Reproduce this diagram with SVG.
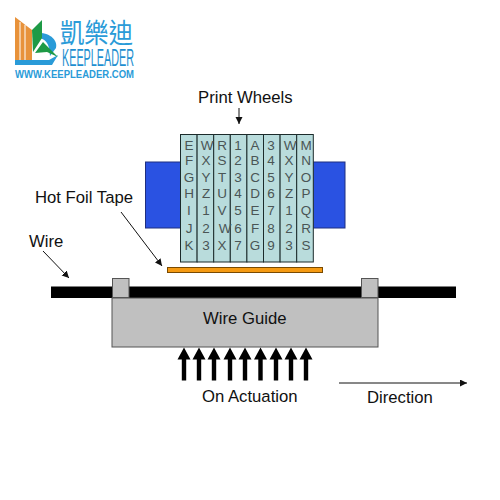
<svg xmlns="http://www.w3.org/2000/svg" width="500" height="500" viewBox="0 0 500 500">
<defs>
<style>
text{font-family:"Liberation Sans",Arial,sans-serif;fill:#111}
.lbl{font-size:16.700px}
.w{font-size:13.500px;fill:#4a5555;text-anchor:middle}
.col{fill:#b9dcdc;stroke:#1c2b2b;stroke-width:1}
.gr{fill:#c0c0c0;stroke:#555;stroke-width:1}
.blue{fill:#2a52e2;stroke:#1f2f80;stroke-width:1}
.thin{stroke:#111;stroke-width:1;fill:none}
</style>
<marker id="ah" markerUnits="userSpaceOnUse" markerWidth="8" markerHeight="8" refX="7" refY="3.500" orient="auto"><path d="M0 0L7 3.500L0 7Z" fill="#111"/></marker>
<path id="up" d="M-2.200 33V12H-6.500L0 0L6.500 12H2.200V33Z" fill="#000"/>
</defs>
<rect width="500" height="500" fill="#fff"/>
<g id="logo">
<path d="M15 17L32 30V60H15Z" fill="#e8923a"/>
<path d="M20 22V60M25 25V60" stroke="#fff" stroke-width="1"/>
<path d="M15 60H49L58 55L52 65H15Z" fill="#2a9bd8"/>
<path d="M39 33C51 33 58 41 56 48L50 56L49 48C48 43 45 39 39 38Z" fill="#2a9bd8"/>
<path d="M32 30L42 20V38L33 52Z" fill="#1e9a46"/>
<path d="M35 53L43 42L58 57L47 52Z" fill="#1e9a46"/>
<text x="60" y="43" font-size="27" style="font-family:'Noto Sans CJK TC','Noto Sans CJK SC',sans-serif;fill:#2a9bd8" textLength="73" lengthAdjust="spacingAndGlyphs">凱樂迪</text>
<text x="62" y="66" font-size="24" style="fill:#1e8fd0" textLength="72" lengthAdjust="spacingAndGlyphs">KEEPLEADER</text>
<text x="15" y="77.500" font-size="11" font-weight="bold" style="fill:#2a9bd8" textLength="119" lengthAdjust="spacingAndGlyphs">WWW.KEEPLEADER.COM</text>
</g>
<g id="print-wheels-label"><text class="lbl" x="198" y="103">Print Wheels</text></g>
<g id="side-blocks">
<rect class="blue" x="145.500" y="162" width="35" height="66"/>
<rect class="blue" x="313" y="162" width="32" height="66"/>
</g>
<g id="print-wheels">
<rect class="col" x="180.500" y="134.500" width="16.600" height="127.500"/>
<rect class="col" x="197.100" y="134.500" width="16.600" height="127.500"/>
<rect class="col" x="213.700" y="134.500" width="16.600" height="127.500"/>
<rect class="col" x="230.300" y="134.500" width="16.600" height="127.500"/>
<rect class="col" x="246.900" y="134.500" width="16.600" height="127.500"/>
<rect class="col" x="263.500" y="134.500" width="16.600" height="127.500"/>
<rect class="col" x="280.100" y="134.500" width="16.600" height="127.500"/>
<rect class="col" x="296.700" y="134.500" width="16.600" height="127.500"/>
<text class="w" x="189" y="150">E</text><text class="w" x="189" y="165">F</text><text class="w" x="189" y="182">G</text><text class="w" x="189" y="198">H</text><text class="w" x="189" y="215">I</text><text class="w" x="189" y="233">J</text><text class="w" x="189" y="250">K</text>
<text class="w" x="207" y="150">W</text><text class="w" x="206" y="165">X</text><text class="w" x="206" y="182">Y</text><text class="w" x="206" y="198">Z</text><text class="w" x="206" y="215">1</text><text class="w" x="206" y="233">2</text><text class="w" x="206" y="250">3</text>
<text class="w" x="222" y="150">R</text><text class="w" x="222" y="165">S</text><text class="w" x="222" y="182">T</text><text class="w" x="222" y="198">U</text><text class="w" x="222" y="215">V</text><text class="w" x="225" y="233">W</text><text class="w" x="222" y="250">X</text>
<text class="w" x="238" y="150">1</text><text class="w" x="238" y="165">2</text><text class="w" x="238" y="182">3</text><text class="w" x="238" y="198">4</text><text class="w" x="238" y="215">5</text><text class="w" x="238" y="233">6</text><text class="w" x="238" y="250">7</text>
<text class="w" x="255" y="150">A</text><text class="w" x="255" y="165">B</text><text class="w" x="255" y="182">C</text><text class="w" x="255" y="198">D</text><text class="w" x="255" y="215">E</text><text class="w" x="255" y="233">F</text><text class="w" x="255" y="250">G</text>
<text class="w" x="271" y="150">3</text><text class="w" x="271" y="165">4</text><text class="w" x="271" y="182">5</text><text class="w" x="271" y="198">6</text><text class="w" x="271" y="215">7</text><text class="w" x="271" y="233">8</text><text class="w" x="271" y="250">9</text>
<text class="w" x="290" y="150">W</text><text class="w" x="289" y="165">X</text><text class="w" x="289" y="182">Y</text><text class="w" x="289" y="198">Z</text><text class="w" x="289" y="215">1</text><text class="w" x="289" y="233">2</text><text class="w" x="289" y="250">3</text>
<text class="w" x="306" y="150">M</text><text class="w" x="306" y="165">N</text><text class="w" x="306" y="182">O</text><text class="w" x="306" y="198">P</text><text class="w" x="306" y="215">Q</text><text class="w" x="306" y="233">R</text><text class="w" x="306" y="250">S</text>
</g>
<g id="hot-foil-tape">
<text class="lbl" x="35" y="203">Hot Foil Tape</text>
<rect x="167.500" y="267.500" width="155" height="5" fill="#f59a12" stroke="#7a4a00" stroke-width="1"/>
</g>
<g id="wire">
<text class="lbl" x="29" y="247">Wire</text>
<rect x="51" y="286.500" width="405" height="11.500" fill="#000"/>
</g>
<g id="wire-guide">
<rect class="gr" x="112" y="298" width="266" height="49"/>
<rect class="gr" x="112.500" y="278.500" width="16.500" height="19"/>
<rect class="gr" x="361.500" y="278.500" width="16.500" height="19"/>
<text class="lbl" x="203" y="324">Wire Guide</text>
</g>
<g id="actuation">
<use href="#up" x="184" y="347.500"/><use href="#up" x="199" y="347.500"/><use href="#up" x="214" y="347.500"/><use href="#up" x="230" y="347.500"/><use href="#up" x="245" y="347.500"/><use href="#up" x="260.500" y="347.500"/><use href="#up" x="276" y="347.500"/><use href="#up" x="291" y="347.500"/><use href="#up" x="306" y="347.500"/>
<text class="lbl" x="202" y="402">On Actuation</text>
</g>
<g id="direction-label"><text class="lbl" x="367" y="403">Direction</text></g>
<g id="connectors">
<path class="thin" d="M239 108V124" marker-end="url(#ah)"/>
<path class="thin" d="M121 212L162 266" marker-end="url(#ah)"/>
<path class="thin" d="M43 251L69 278" marker-end="url(#ah)"/>
<path class="thin" d="M339 383H467" marker-end="url(#ah)"/>
</g>
</svg>
